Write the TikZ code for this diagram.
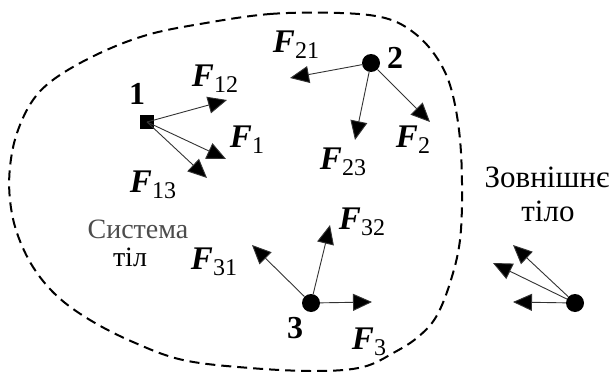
\documentclass[tikz,border=0pt]{standalone}
\usepackage{fontspec}
\setmainfont{Liberation Serif}
\usetikzlibrary{arrows.meta}
\tikzset{
 force/.style={draw=black!80, line width=0.9pt, -{Triangle[length=19pt,width=17pt,fill=black]}},
 ptc/.style={circle, fill=black, inner sep=0pt, minimum size=18pt},
 ptsq/.style={rectangle, fill=black, inner sep=0pt, minimum size=14pt},
 numlbl/.style={inner sep=0pt, font=\fontsize{32}{32}\selectfont\bfseries},
 flbl/.style={inner sep=0pt},
 boundary/.style={dash pattern=on 10pt off 6pt, line width=2pt},
 txt/.style={inner sep=0pt, font=\fontsize{28}{28}\selectfont}
}
\newcommand\Fsub[1]{{\fontsize{33}{33}\selectfont\bfseries\itshape F}\raisebox{-6pt}{\fontsize{24}{24}\selectfont #1}}
\begin{document}
\begin{tikzpicture}[x=1pt,y=-1pt]
\fill[white] (0,0) rectangle (611,372);
\useasboundingbox (0,0) rectangle (611,372);
% boundary of the system
\draw[boundary] plot[smooth cycle, tension=0.6] coordinates {
 (200,24) (270,14) (340,13) (385,18) (413,32) (435,55) (450,85) (459,130)
 (462,183) (460,240) (450,283) (436,317) (418,337) (395,352) (363,367)
 (317,371) (250,368) (183,360) (133,342) (90,320) (57,296) (33,267)
 (17,233) (10,200) (10,167) (17,133) (33,100) (57,77) (100,53) (147,35)};
% bodies
\node[ptsq] (p1) at (147,122) {};
\node[ptc] (p2) at (371,63) {};
\node[ptc] (p3) at (311,303) {};
\node[ptc] (pe) at (575,303) {};
% arrow tips
\coordinate (t12) at (227,100);
\coordinate (t1) at (226,159);
\coordinate (t13) at (207,178);
\coordinate (t21) at (290,78);
\coordinate (t23) at (355,140);
\coordinate (t2) at (430,122);
\coordinate (t31) at (252,245);
\coordinate (t32) at (330,225);
\coordinate (t3) at (372,302);
\coordinate (te1) at (513,302);
\coordinate (te2) at (493,263);
\coordinate (te3) at (513,245);
% forces
\draw[force] (p1.center) -- (t12);
\draw[force] (p1.center) -- (t1);
\draw[force] (p1.center) -- (t13);
\draw[force] (p2) -- (t21);
\draw[force] (p2) -- (t23);
\draw[force] (p2) -- (t2);
\draw[force] (p3) -- (t31);
\draw[force] (p3) -- (t32);
\draw[force] (p3) -- (t3);
\draw[force] (pe) -- (te1);
\draw[force] (pe) -- (te2);
\draw[force] (pe) -- (te3);
% labels
\node[numlbl] (n1) at (137,94) {1};
\node[numlbl] (n2) at (395,58) {2};
\node[numlbl] (n3) at (295,328) {3};
\node[flbl] (l12) at (215,79) {\Fsub{12}};
\node[flbl] (l1) at (247,140) {\Fsub{1}};
\node[flbl] (l13) at (153,185) {\Fsub{13}};
\node[flbl] (l21) at (296,45) {\Fsub{21}};
\node[flbl] (l23) at (343,162) {\Fsub{23}};
\node[flbl] (l2) at (413,140) {\Fsub{2}};
\node[flbl] (l31) at (214,262) {\Fsub{31}};
\node[flbl] (l32) at (362,222) {\Fsub{32}};
\node[flbl] (l3) at (369,342) {\Fsub{3}};
\node[txt, text=black!70] (sys1) at (138,229) {Система};
\node[txt] (sys2) at (130,257) {тіл};
\node[txt, font=\fontsize{31}{31}\selectfont] (ext1) at (547,177) {Зовнішнє};
\node[txt, font=\fontsize{31}{31}\selectfont] (ext2) at (548,211) {тіло};
\end{tikzpicture}
\end{document}
